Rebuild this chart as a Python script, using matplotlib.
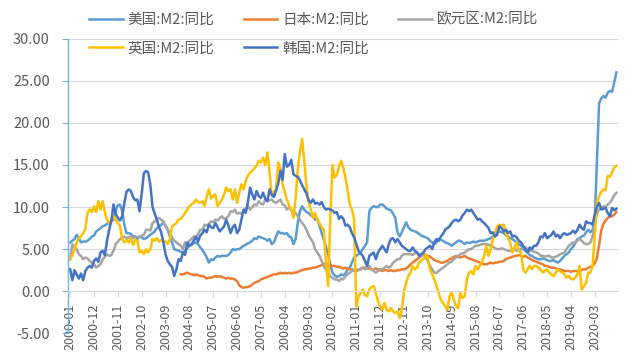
import numpy as np
import pandas as pd
import matplotlib
matplotlib.use('Agg')
import matplotlib.pyplot as plt
from matplotlib.ticker import FormatStrFormatter

plt.rcParams['font.family'] = ['Noto Sans CJK SC', 'DejaVu Sans']

# ---------------- data ----------------
months = pd.period_range('2000-01', '2021-01', freq='M').strftime('%Y-%m').tolist()

us_m2_yoy = sum([
    [5.8, 6.0, 6.2, 6.7, 6.3, 5.8, 5.9, 5.9, 6.0, 6.2, 6.5, 6.6],
    [7.1, 7.3, 7.5, 7.7, 7.8, 8.0, 8.1, 8.3, 8.5, 9.6, 10.2, 10.3],
    [9.5, 7.9, 6.9, 6.9, 6.8, 6.5, 6.5, 6.2, 6.5, 6.4, 6.2, 6.3],
    [6.5, 6.7, 6.9, 7.1, 7.5, 7.7, 7.9, 8.1, 7.8, 7.3, 6.5, 5.8],
    [5.0, 4.9, 4.8, 4.7, 4.6, 4.8, 5.1, 5.4, 5.5, 5.7, 5.8, 5.6],
    [5.2, 4.9, 4.5, 4.0, 3.4, 3.8, 3.7, 4.0, 4.2, 4.1, 4.2, 4.2],
    [4.2, 4.3, 4.6, 5.0, 4.9, 5.0, 5.0, 5.2, 5.4, 5.5, 5.7, 5.8],
    [6.0, 6.3, 6.2, 6.5, 6.4, 6.3, 6.2, 6.0, 6.2, 5.6, 5.8, 6.5],
    [7.1, 6.9, 6.9, 6.8, 6.9, 6.5, 6.4, 5.6, 6.2, 8.1, 9.5, 10.1],
    [9.7, 9.4, 9.3, 9.0, 8.9, 8.5, 8.6, 7.8, 6.9, 6.2, 5.3, 4.4],
    [3.2, 2.2, 1.9, 1.7, 1.8, 2.0, 1.9, 2.1, 2.6, 2.8, 3.4, 4.0],
    [4.2, 4.4, 4.6, 5.0, 5.4, 5.8, 9.5, 9.9, 10.1, 10.0, 10.0, 10.3],
    [10.3, 10.1, 9.8, 9.7, 9.6, 9.2, 8.7, 7.0, 6.5, 7.0, 7.6, 8.2],
    [7.6, 7.3, 7.2, 7.1, 7.0, 6.8, 6.6, 6.5, 6.4, 6.3, 6.0, 5.8],
    [5.6, 5.8, 6.2, 6.1, 6.0, 5.8, 5.7, 5.6, 5.4, 5.6, 5.8, 6.0],
    [6.0, 5.8, 5.6, 5.8, 5.7, 5.8, 5.9, 5.8, 5.9, 6.0, 6.0, 6.0],
    [6.1, 6.2, 6.3, 6.5, 6.9, 7.0, 7.1, 7.0, 6.9, 6.7, 6.5, 6.3],
    [6.2, 6.0, 5.8, 5.6, 5.4, 5.0, 4.8, 4.6, 4.3, 4.2, 4.0, 3.9],
    [3.8, 3.8, 3.9, 3.8, 3.7, 3.6, 3.6, 3.7, 3.5, 3.4, 3.6, 3.9],
    [4.2, 4.4, 4.6, 5.0, 5.3, 5.7, 6.2, 6.3, 6.5, 6.6, 7.0, 7.3],
    [7.0, 7.3, 8.5, 15.5, 22.3, 22.9, 23.2, 23.0, 23.6, 23.8, 23.7, 24.8],
    [26.0],
], [])

# Japan series starts 2004-04
japan_m2_yoy = [np.nan] * 51 + sum([
    [2.0, 2.0, 2.1, 2.2, 2.1, 2.0, 1.9, 2.0, 1.9],
    [1.8, 1.8, 1.7, 1.5, 1.6, 1.6, 1.7, 1.8, 1.7, 1.8, 1.7, 1.6],
    [1.5, 1.6, 1.5, 1.5, 1.4, 1.2, 0.7, 0.5, 0.4, 0.5, 0.5, 0.6],
    [0.8, 1.0, 1.1, 1.2, 1.4, 1.5, 1.6, 1.7, 1.8, 1.9, 2.0, 2.0],
    [2.1, 2.2, 2.1, 2.2, 2.1, 2.2, 2.1, 2.2, 2.2, 2.3, 2.4, 2.5],
    [2.6, 2.6, 2.7, 2.7, 2.8, 2.8, 2.9, 3.0, 3.1, 3.2, 3.3, 3.2],
    [3.1, 3.0, 3.0, 2.9, 2.9, 2.8, 2.7, 2.8, 2.7, 2.6, 2.6, 2.5],
    [2.4, 2.5, 2.7, 2.8, 2.8, 2.7, 2.7, 2.6, 2.6, 2.7, 2.6, 2.5],
    [2.4, 2.5, 2.5, 2.4, 2.5, 2.4, 2.4, 2.5, 2.5, 2.6, 2.6, 2.7],
    [2.9, 3.2, 3.4, 3.6, 3.8, 4.0, 4.2, 4.4, 4.3, 4.2, 4.1, 3.9],
    [3.7, 3.6, 3.5, 3.4, 3.4, 3.5, 3.6, 3.8, 3.9, 4.1, 4.2, 4.1],
    [4.0, 4.1, 4.2, 4.0, 3.9, 3.8, 3.7, 3.6, 3.5, 3.4, 3.3, 3.2],
    [3.2, 3.3, 3.4, 3.3, 3.4, 3.4, 3.5, 3.5, 3.6, 3.8, 3.9, 4.0],
    [4.1, 4.2, 4.2, 4.3, 4.2, 4.1, 4.2, 4.0, 3.9, 3.7, 3.6, 3.5],
    [3.4, 3.3, 3.2, 3.0, 3.0, 2.9, 2.8, 2.8, 2.7, 2.6, 2.6, 2.5],
    [2.4, 2.4, 2.4, 2.3, 2.4, 2.4, 2.4, 2.4, 2.5, 2.6, 2.6, 2.8],
    [2.9, 3.0, 3.3, 3.9, 5.5, 7.2, 8.0, 8.4, 8.7, 8.9, 8.9, 9.1],
    [9.4],
], [])

euro_m2_yoy = sum([
    [3.8, 5.6, 5.2, 5.0, 4.4, 4.2, 3.8, 4.0, 3.9, 3.6, 3.4, 3.2],
    [2.8, 3.0, 3.2, 3.8, 4.1, 4.4, 4.2, 4.3, 4.8, 5.6, 5.9, 6.2],
    [6.4, 6.5, 6.3, 6.4, 6.5, 6.3, 6.5, 6.4, 6.5, 6.6, 6.7, 7.3],
    [7.3, 7.2, 8.1, 8.3, 8.5, 8.7, 8.5, 8.3, 7.7, 7.3, 6.9, 6.4],
    [6.0, 5.8, 5.6, 5.4, 5.0, 5.8, 5.6, 6.0, 6.2, 6.5, 6.3, 6.8],
    [7.3, 7.3, 7.9, 7.8, 8.0, 8.3, 8.2, 8.5, 8.4, 8.7, 8.9, 8.6],
    [8.7, 8.9, 9.5, 9.4, 9.7, 9.2, 9.3, 9.2, 9.5, 9.8, 10.1, 9.7],
    [10.0, 10.3, 10.2, 10.7, 10.4, 10.3, 10.9, 10.7, 10.8, 10.9, 10.6, 10.5],
    [10.7, 10.9, 10.3, 10.2, 9.7, 10.0, 9.6, 9.5, 9.3, 8.9, 8.5, 8.1],
    [7.8, 7.3, 6.7, 6.2, 5.8, 5.0, 4.6, 4.2, 3.6, 3.0, 2.6, 2.2],
    [1.8, 1.6, 1.4, 1.4, 1.2, 1.5, 1.4, 1.8, 2.0, 2.2, 2.4, 2.5],
    [2.6, 2.5, 2.6, 2.8, 2.6, 2.8, 3.0, 2.6, 2.4, 2.2, 2.4, 2.6],
    [2.6, 2.8, 3.0, 2.8, 3.0, 3.4, 3.6, 3.8, 3.8, 4.2, 4.4, 4.4],
    [4.4, 4.4, 4.3, 4.5, 4.6, 4.4, 4.2, 4.6, 4.0, 3.6, 3.0, 2.6],
    [2.2, 2.2, 2.4, 2.6, 2.8, 3.0, 3.2, 3.4, 3.5, 3.8, 4.0, 4.2],
    [4.4, 4.5, 4.6, 4.8, 5.0, 5.0, 5.2, 5.4, 5.4, 5.5, 5.6, 5.6],
    [5.6, 5.5, 5.4, 5.3, 5.1, 5.0, 5.0, 5.1, 5.0, 4.9, 4.8, 4.8],
    [4.9, 5.0, 4.8, 4.9, 5.0, 5.2, 5.2, 5.0, 4.8, 4.8, 4.7, 4.6],
    [4.5, 4.2, 4.2, 4.1, 4.2, 4.2, 4.0, 4.0, 4.1, 4.2, 4.4, 4.5],
    [4.6, 5.0, 5.4, 5.6, 5.8, 5.8, 6.0, 6.2, 6.0, 5.7, 5.6, 5.6],
    [5.8, 6.5, 8.2, 9.2, 9.7, 9.8, 10.1, 10.0, 10.3, 10.5, 10.9, 11.4],
    [11.7],
], [])

uk_m2_yoy = sum([
    [3.8, 4.3, 4.9, 5.8, 6.3, 6.5, 6.9, 7.4, 9.3, 9.7, 9.4, 10.1],
    [9.4, 10.7, 9.7, 10.7, 9.4, 8.5, 8.1, 8.4, 8.9, 8.5, 8.1, 7.7],
    [6.2, 5.8, 6.1, 5.8, 6.3, 5.5, 6.1, 6.0, 4.6, 4.8, 4.4, 5.0],
    [4.6, 5.0, 6.2, 6.0, 6.3, 5.9, 6.1, 5.9, 5.9, 5.6, 6.2, 7.7],
    [7.9, 8.1, 8.5, 8.6, 8.9, 9.3, 9.7, 10.1, 10.3, 10.5, 10.9, 10.6],
    [10.5, 10.7, 10.1, 11.3, 12.1, 11.0, 11.3, 11.5, 10.1, 10.5, 10.9, 11.5],
    [12.3, 11.9, 12.1, 10.9, 12.1, 10.5, 11.7, 12.7, 12.1, 13.1, 13.7, 14.1],
    [14.3, 14.6, 14.9, 15.5, 15.3, 15.9, 15.0, 16.5, 14.1, 11.3, 11.8, 12.1],
    [15.3, 14.6, 12.7, 11.8, 10.9, 10.2, 9.7, 8.7, 11.0, 14.5, 16.5, 18.1],
    [15.5, 12.5, 10.6, 9.7, 8.7, 9.3, 8.5, 8.1, 7.6, 7.3, 3.4, 0.6],
    [8.5, 15.0, 13.5, 13.8, 14.8, 15.5, 14.7, 13.5, 12.0, 10.3, 9.7, 8.5],
    [-1.8, -0.6, -0.2, 0.2, -0.5, -0.6, 0.2, 0.5, 0.6, -0.2, -1.2, -1.8],
    [-2.2, -1.4, -2.2, -2.4, -2.0, -2.4, -2.6, -2.4, -3.2, -2.2, 0.0, 1.0],
    [1.8, 2.2, 3.0, 2.6, 2.8, 3.4, 3.6, 3.8, 4.4, 3.8, 2.6, 2.0],
    [1.4, 0.6, -0.2, -1.0, -1.4, -1.8, -2.2, -0.6, -0.2, -1.0, -1.8, -2.0],
    [-0.2, -0.8, -0.6, 1.4, 2.2, 2.4, 2.0, 3.0, 2.6, 3.0, 3.5, 4.2],
    [5.4, 4.2, 5.0, 6.2, 6.9, 7.7, 7.9, 7.8, 7.9, 6.9, 6.3, 5.8],
    [4.6, 5.2, 5.8, 4.8, 4.6, 2.6, 2.2, 2.6, 3.0, 2.6, 3.0, 3.0],
    [2.8, 2.6, 2.2, 2.4, 2.6, 2.2, 2.0, 1.8, 2.2, 2.6, 2.4, 2.2],
    [2.0, 1.6, 1.8, 1.5, 1.4, 1.6, 2.0, 3.0, 0.2, 0.6, 1.0, 2.2],
    [2.2, 3.0, 6.5, 10.5, 11.3, 11.8, 12.1, 12.0, 13.7, 13.6, 14.1, 14.7],
    [14.9],
], [])

korea_m2_yoy = sum([
    [2.6, 1.3, 2.5, 2.0, 1.5, 2.1, 1.3, 2.4, 2.8, 3.0, 2.8, 3.6],
    [3.9, 3.5, 4.6, 4.8, 4.3, 6.0, 7.3, 8.4, 10.3, 9.2, 8.7, 8.4],
    [8.9, 10.5, 11.8, 12.1, 11.9, 11.2, 10.8, 10.9, 9.5, 11.6, 14.0, 14.3],
    [14.1, 12.6, 10.0, 9.2, 8.5, 7.6, 7.0, 5.8, 4.4, 3.6, 3.2, 2.9],
    [1.8, 2.6, 3.8, 3.6, 4.6, 4.3, 5.8, 5.4, 5.6, 6.0, 6.5, 5.9],
    [6.6, 6.9, 7.3, 7.0, 7.9, 7.6, 7.5, 8.1, 7.6, 7.1, 7.4, 7.7],
    [8.5, 7.8, 6.9, 7.6, 7.9, 6.9, 7.3, 8.5, 9.7, 9.3, 10.6, 12.3],
    [11.5, 10.9, 11.9, 11.3, 11.1, 11.7, 11.0, 10.7, 12.1, 11.5, 11.2, 12.0],
    [12.8, 14.3, 13.2, 16.3, 14.8, 15.0, 15.6, 13.9, 13.7, 13.6, 13.2, 12.6],
    [12.1, 11.6, 10.8, 10.5, 10.9, 10.4, 10.5, 10.3, 10.6, 10.0, 9.7, 9.8],
    [9.7, 9.6, 9.3, 9.4, 8.6, 8.9, 8.6, 7.8, 7.9, 7.6, 6.9, 6.4],
    [5.6, 4.8, 4.5, 4.2, 3.6, 3.0, 4.2, 4.4, 4.6, 3.8, 4.6, 5.0],
    [5.4, 5.0, 4.6, 5.6, 6.2, 6.3, 5.8, 6.2, 5.8, 5.4, 5.2, 5.0],
    [4.8, 4.8, 5.2, 4.8, 4.6, 4.2, 4.4, 4.6, 5.0, 5.2, 5.4, 5.0],
    [5.8, 6.2, 6.0, 6.5, 6.8, 7.3, 7.5, 7.7, 8.1, 8.4, 8.5, 8.3],
    [8.5, 9.0, 9.3, 9.7, 9.5, 9.7, 9.3, 8.9, 8.5, 8.6, 8.3, 8.1],
    [7.8, 7.5, 6.9, 7.0, 6.5, 6.7, 7.7, 7.5, 7.1, 7.3, 6.9, 7.1],
    [6.5, 6.6, 6.4, 6.0, 5.8, 5.4, 5.0, 4.6, 5.2, 5.0, 5.4, 5.4],
    [5.8, 6.5, 6.4, 6.9, 6.3, 6.5, 6.7, 7.1, 6.5, 6.7, 6.3, 6.7],
    [6.9, 6.7, 6.8, 6.9, 7.2, 6.9, 7.3, 7.9, 7.5, 7.3, 8.3, 8.1],
    [8.1, 7.9, 9.1, 10.0, 10.5, 9.7, 9.8, 9.9, 9.3, 8.9, 9.9, 9.6],
    [9.8],
], [])

series_labels = ['美国:M2:同比', '日本:M2:同比', '欧元区:M2:同比', '英国:M2:同比', '韩国:M2:同比']
series_colors = ['#5B9BD5', '#ED7D31', '#A5A5A5', '#FFC000', '#4472C4']
series_values = [us_m2_yoy, japan_m2_yoy, euro_m2_yoy, uk_m2_yoy, korea_m2_yoy]

tick_step = 11
y_ticks = [-5, 0, 5, 10, 15, 20, 25, 30]

# ---------------- plot ----------------
fig = plt.figure(figsize=(6.4, 3.61), dpi=100)
ax = fig.add_axes([68 / 640, 1 - 333.3 / 361, (617.5 - 68) / 640, (333.3 - 38.7) / 361])

# spine placement first (it resets tick objects)
for s in ['top', 'right']:
    ax.spines[s].set_visible(False)
ax.spines['left'].set_color('#6CB4EE')
ax.spines['left'].set_linewidth(1.0)
ax.spines['bottom'].set_position(('data', 0))
ax.spines['bottom'].set_color('#D9D9D9')
ax.spines['bottom'].set_linewidth(0.8)

x = np.arange(len(months))
handles = []
for vals, lab, col in zip(series_values, series_labels, series_colors):
    h, = ax.plot(x, vals, color=col, lw=1.8, label=lab, solid_joinstyle='round')
    handles.append(h)

ax.set_xlim(-1, len(months) - 0.5)
ax.set_ylim(-5, 30)
ax.set_yticks(y_ticks)
ax.yaxis.set_major_formatter(FormatStrFormatter('%.2f'))
ax.grid(axis='y', color='#D9D9D9', lw=0.8)
ax.set_axisbelow(True)

tick_pos = list(range(0, len(months), tick_step))
ax.set_xticks(tick_pos)
ax.set_xticklabels([months[i] for i in tick_pos])

ax.tick_params(axis='y', color='#6CB4EE', labelcolor='#595959', length=4,
               labelsize=10.5, pad=9)
ax.tick_params(axis='x', color='#D9D9D9', labelcolor='#595959', length=4,
               labelsize=9, pad=5, labelrotation=90)

order = [0, 3, 1, 4, 2]
fig.legend([handles[i] for i in order], [series_labels[i] for i in order],
           ncol=3, loc='center', bbox_to_anchor=(0.49, 1 - 34 / 361), frameon=False,
           fontsize=10.5, handlelength=2.3, handletextpad=0.35, columnspacing=2.0,
           labelspacing=1.0, labelcolor='#595959')

fig.savefig('out.png', dpi=100)
